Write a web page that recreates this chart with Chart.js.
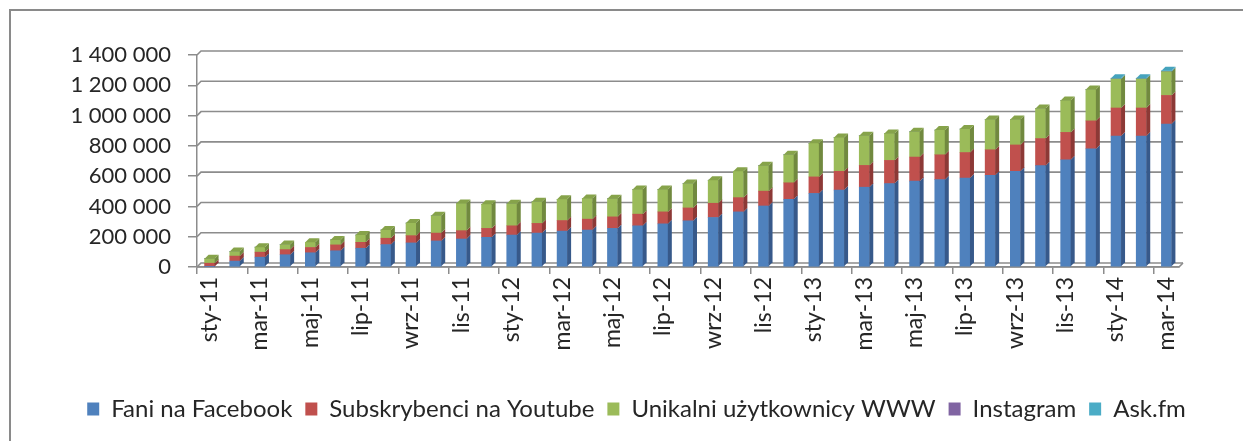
<!DOCTYPE html>
<html>
<head>
<meta charset="utf-8">
<script src="https://cdn.jsdelivr.net/npm/chart.js@4.4.0/dist/chart.umd.min.js"></script>
<style>
  html, body { margin: 0; padding: 0; background: #fff; overflow: hidden; }
  #wrap { position: relative; width: 1243px; height: 441px; }
  #frame { position: absolute; left: 9px; top: 9px; width: 1300px; height: 500px; border: 2px solid #8a8a8a; }
  #chart { position: absolute; left: 0; top: 0; }
</style>
</head>
<body>
<div id="wrap">
  <div id="frame"></div>
  <canvas id="chart" width="1243" height="441"></canvas>
</div>
<script>
// months Jan 2011 - Mar 2014 (Polish abbreviations)
const months = ['sty', 'lut', 'mar', 'kwi', 'maj', 'cze', 'lip', 'sie', 'wrz', 'paź', 'lis', 'gru'];
const labels = [];
for (let y = 11; y <= 14; y++) {
    months.forEach((m, i) => {
        if (y < 14 || i < 3) labels.push(m + '-' + y);
    });
}

const facebook = [3000, 39000, 65000, 81000, 94000, 107000, 124000, 148000, 159000, 172000,
    185000, 196000, 211000, 224000, 237000, 244000, 255000, 272000, 285000, 305000,
    327000, 364000, 403000, 447000, 486000, 508000, 527000, 551000, 567000, 577000,
    588000, 606000, 632000, 669000, 708000, 780000, 865000, 865000, 944000];
const youtube = [22000, 33000, 33000, 34000, 35000, 39000, 39000, 42000, 48000, 52000,
    55000, 59000, 61000, 64000, 70000, 72000, 76000, 77000, 79000, 85000,
    94000, 94000, 98000, 109000, 109000, 124000, 144000, 153000, 159000, 164000,
    168000, 168000, 174000, 179000, 181000, 185000, 185000, 185000, 189000];
const www = [30000, 30000, 33000, 33000, 34000, 33000, 48000, 54000, 83000, 114000,
    180000, 159000, 146000, 143000, 140000, 137000, 120000, 163000, 148000, 161000,
    152000, 174000, 168000, 185000, 222000, 224000, 196000, 178000, 167000, 163000,
    155000, 200000, 168000, 198000, 211000, 207000, 192000, 192000, 157000];
const instagram = new Array(39).fill(0);
const askfm = [0, 0, 0, 0, 0, 0, 0, 0, 0, 0,
    0, 0, 0, 0, 0, 0, 0, 0, 0, 0,
    0, 0, 0, 0, 0, 0, 0, 0, 0, 0,
    0, 0, 0, 0, 0, 0, 5000, 5000, 6000];

const seriesNames = ['Fani na Facebook', 'Subskrybenci na Youtube', 'Unikalni użytkownicy WWW', 'Instagram', 'Ask.fm'];
const yTicks = [0, 200000, 400000, 600000, 800000, 1000000, 1200000, 1400000];

const frontColors = ['#4F81BD', '#C0504D', '#9BBB59', '#8064A2', '#4BACC6'];
const sideColors = ['#37598a', '#8c3936', '#71893f', '#5c4876', '#3a8ba2'];
const topColors = ['#6a95c9', '#cf6b68', '#86a34a', '#9780b5', '#46a3bd'];
const depth = 4;
const gridColor = '#8c8c8c';
const textColor = '#262626';

function fmt(v) {
    return String(v).replace(/\B(?=(\d{3})+(?!\d))/g, ' ');
}

// fake 3D: back wall grid, floor, side and top faces of the bars
const bars3d = {
    id: 'bars3d',
    beforeDatasetsDraw(chart) {
        const { ctx, chartArea, scales: { y } } = chart;
        ctx.save();
        ctx.strokeStyle = gridColor;
        ctx.lineWidth = 1.6;
        yTicks.forEach(v => {
            const py = y.getPixelForValue(v);
            ctx.beginPath();
            ctx.moveTo(chartArea.left, py);
            ctx.lineTo(chartArea.left + depth, py - depth);
            ctx.lineTo(chartArea.right + depth, py - depth);
            ctx.stroke();
        });
        const p0 = y.getPixelForValue(0);
        ctx.beginPath();
        ctx.moveTo(chartArea.left, p0);
        ctx.lineTo(chartArea.right, p0);
        ctx.lineTo(chartArea.right + depth, p0 - depth);
        ctx.stroke();
        ctx.restore();
    },
    afterDatasetsDraw(chart) {
        const ctx = chart.ctx;
        const metas = chart.getSortedVisibleDatasetMetas();
        ctx.save();
        for (let i = 0; i < labels.length; i++) {
            let topBar = null, topDs = -1;
            metas.forEach(meta => {
                const v = chart.data.datasets[meta.index].data[i];
                if (!v) return;
                const bar = meta.data[i];
                const r = bar.x + bar.width / 2;
                ctx.fillStyle = sideColors[meta.index];
                ctx.beginPath();
                ctx.moveTo(r, bar.base);
                ctx.lineTo(r, bar.y);
                ctx.lineTo(r + depth, bar.y - depth);
                ctx.lineTo(r + depth, bar.base - depth);
                ctx.closePath();
                ctx.fill();
                if (meta.index > topDs) { topDs = meta.index; topBar = bar; }
            });
            if (topBar) {
                const l = topBar.x - topBar.width / 2;
                const r = topBar.x + topBar.width / 2;
                ctx.fillStyle = topColors[topDs];
                ctx.beginPath();
                ctx.moveTo(l, topBar.y);
                ctx.lineTo(l + depth, topBar.y - depth);
                ctx.lineTo(r + depth, topBar.y - depth);
                ctx.lineTo(r, topBar.y);
                ctx.closePath();
                ctx.fill();
            }
        }
        ctx.restore();
    }
};

const allData = [facebook, youtube, www, instagram, askfm];

new Chart(document.getElementById('chart'), {
    type: 'bar',
    data: {
        labels: labels,
        datasets: seriesNames.map((name, k) => ({
            label: name,
            data: allData[k],
            backgroundColor: frontColors[k],
            borderWidth: 0,
            barThickness: 10
        }))
    },
    options: {
        responsive: false,
        animation: false,
        layout: { padding: { left: 30, right: 0, top: 55, bottom: 10 } },
        plugins: {
            tooltip: { enabled: false },
            legend: {
                position: 'bottom',
                labels: {
                    boxWidth: 12,
                    boxHeight: 13,
                    padding: 13,
                    color: textColor,
                    font: { family: 'Lato', size: 24 }
                }
            }
        },
        scales: {
            x: {
                stacked: true,
                afterFit: s => { s.height = 117; },
                grid: {
                    offset: true,
                    drawOnChartArea: false,
                    tickLength: 7,
                    color: gridColor,
                    lineWidth: c => (c.index % 2 === 0 ? 1.5 : 0)
                },
                border: { display: true, color: gridColor, width: 1.5 },
                ticks: {
                    autoSkip: false,
                    minRotation: 90,
                    maxRotation: 90,
                    padding: 3,
                    color: textColor,
                    font: { family: 'Lato', size: 23 },
                    callback: (v, i) => (i % 2 === 0 ? labels[i] : '')
                }
            },
            y: {
                stacked: true,
                min: 0,
                max: 1400000,
                afterFit: s => { s.width = 167; },
                grid: { drawOnChartArea: false, tickLength: 9, color: gridColor, lineWidth: 1.5 },
                border: { display: true, color: gridColor, width: 1.5 },
                ticks: {
                    stepSize: 200000,
                    padding: 17,
                    color: textColor,
                    font: { family: 'Lato', size: 22 },
                    callback: v => fmt(v)
                }
            },
            yr: {
                position: 'right',
                afterFit: s => { s.width = 64; },
                grid: { display: false },
                border: { display: false },
                ticks: { display: false }
            }
        }
    },
    plugins: [bars3d]
});
</script>
</body>
</html>
